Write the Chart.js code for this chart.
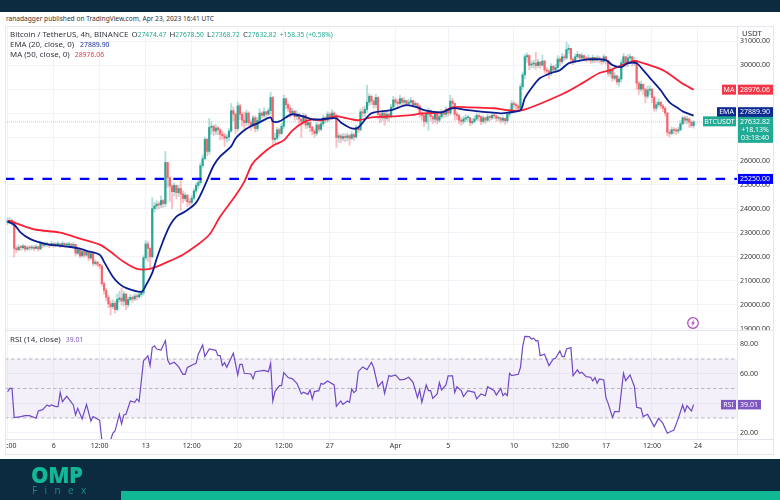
<!DOCTYPE html>
<html><head><meta charset="utf-8">
<script src="https://cdn.jsdelivr.net/npm/chart.js@4"></script>
<style>
html,body{margin:0;padding:0;background:#fff;width:780px;height:500px;overflow:hidden}
body{font-family:"Noto Sans",sans-serif;color:#333;position:relative}
.a{position:absolute;white-space:nowrap}
.t{font-size:7.9px;line-height:10px;color:#30343c}
.g{color:#22ab94;font-size:6.7px}
.v{font-size:6.9px}
.m{margin-left:3.2px}
.wrap{position:absolute;overflow:hidden;left:5px;width:769px}
canvas{position:absolute;left:-25px;top:0}
</style></head><body>
<div class="a" style="left:0;top:0;width:780px;height:12px;background:#0d2b40"></div>
<div class="a" style="left:6px;top:14px;font-size:6.6px;line-height:10px;color:#333">ranadagger published on TradingView.com, Apr 23, 2023 16:41 UTC</div>
<div class="wrap" style="top:26px;height:305px"><canvas id="price" width="794" height="305"></canvas></div>
<div class="wrap" style="top:331px;height:124px"><canvas id="rsi" width="794" height="124"></canvas></div>
<div class="a" style="left:5px;top:26px;width:769px;height:429px;border:1px solid #e6e8ef;box-sizing:border-box;pointer-events:none"></div>
<div class="a" style="left:5px;top:330px;width:769px;height:1px;background:#e2e4ec"></div>
<div class="a" style="left:5px;top:439px;width:769px;height:1px;background:#e2e4ec"></div>
<div class="a" style="left:737px;top:26px;width:1px;height:429px;background:#e6e8ef"></div>
<div class="a t" style="left:10px;top:29px">Bitcoin / TetherUS, 4h, BINANCE<span class="m">O</span><span class="g">27474.47</span><span class="m">H</span><span class="g">27678.50</span><span class="m">L</span><span class="g">27368.72</span><span class="m">C</span><span class="g">27632.82</span><span class="g m">+158.35 (+0.58%)</span></div>
<div class="a t" style="left:10px;top:39px">EMA (20, close, 0)<span class="v" style="margin-left:6px;color:#1a2fa0">27889.90</span></div>
<div class="a t" style="left:10px;top:49px">MA (50, close, 0)<span class="v" style="margin-left:5px;color:#f23645">28976.06</span></div>
<div class="a t" style="left:10px;top:334px">RSI (14, close)<span class="v" style="margin-left:5px;color:#7e57c2">39.01</span></div>
<div class="a t" style="left:742px;top:28px">USDT</div>
<svg class="a" style="left:686px;top:316px" width="14" height="14" viewBox="0 0 14 14"><circle cx="7" cy="7" r="5.3" fill="#fff" stroke="#ab47bc" stroke-width="1.2"/><path d="M8.3 3.6 5 7.4h1.8L5.8 10.4 9 6.6H7.2z" fill="#ab47bc"/></svg>
<div class="a" style="left:0;top:459px;width:780px;height:41px;background:#0d2b40"></div>
<div class="a" style="left:121px;top:491px;width:659px;height:9px;background:#10b894"></div>
<div class="a" style="left:31px;top:461px;font:800 22px/26px 'Open Sans',sans-serif;color:#10b894;letter-spacing:-.4px">OMP</div>
<div class="a" style="left:32px;top:484px;font:400 10px/13px 'Open Sans',sans-serif;color:#12907e;letter-spacing:7.4px">Finex</div>
<script>
const closes=[
23480,23520,23450,22350,22300,22400,
22380,22450,22320,22380,22370,22400,
22350,22420,22330,22560,22480,22510,
22520,22470,22560,22490,22510,22540,
22470,22560,22490,22500,22530,22480,
22520,22150,22300,22040,22220,22070,
22180,21950,22130,21720,21780,21690,
21620,20880,20600,20310,20040,19920,
20060,19800,20220,20280,20150,20450,
20000,20220,20310,20240,20360,20330,
20420,20500,21960,22540,22350,22000,
24010,24120,24200,24170,24350,24220,
25940,25300,24950,24720,24980,24680,
24850,24620,24430,24570,24300,24270,
24450,24750,24980,25100,25810,26100,
26900,26400,27400,27450,27250,27380,
27300,27120,27050,26950,27000,27250,
28100,27950,27350,28300,27950,27700,
27600,28000,27600,27500,27800,27350,
27700,28000,27900,28050,27950,28100,
28650,26900,26950,27300,27150,27450,
28600,28350,28200,28000,28080,27850,
27950,27750,27650,27900,27500,27600,
27400,27250,27150,27500,27320,27550,
27800,27700,27950,27850,28000,27900,
26980,27050,26950,27020,26980,27050,
26950,27100,27000,27380,27300,28050,
28000,28150,28450,28700,28500,28350,
28650,27950,27800,28000,27780,27950,
27850,28250,28550,28450,28400,28600,
28450,28520,28400,28450,28520,28350,
28400,28300,28000,27900,27650,27950,
28100,27850,27750,27950,27700,27850,
28050,27950,28150,28000,28500,28400,
27950,27900,27700,27650,27750,27800,
27800,27600,27650,27750,27900,27850,
27650,27800,27700,27850,27800,27900,
27880,27780,27800,27700,27780,27680,
27950,28050,28400,28350,28300,28200,
29100,29600,30350,30400,30000,30050,
30080,29980,30130,30000,30170,29800,
29750,29650,29950,29800,29900,30250,
30150,30350,30300,30650,30700,30250,
30150,30350,30450,30300,30400,30280,
30250,30300,30180,30320,30200,30300,
30250,30150,30350,30200,29650,29800,
29450,29550,29300,29420,30100,30350,
30050,30300,30350,30100,30200,29250,
29000,29200,29000,28700,28950,29000,
28650,28200,28350,28450,28300,28200,
28000,27200,27150,27300,27280,27250,
27300,27550,27800,27700,27750,27620,
27474.47,27632.82];
const highs=[
23620,23640,23580,23500,22450,22500,
22480,22520,22470,22460,22450,22480,
22460,22510,22450,22650,22580,22600,
22610,22560,22640,22580,22600,22640,
22570,22640,22570,22590,22620,22560,
22610,22530,22380,22330,22310,22240,
22270,22190,22220,22130,21870,21800,
21700,21650,20950,20680,20400,20150,
20200,20160,20450,20560,20700,20560,
20460,20320,20420,20380,20470,20450,
20510,20600,22050,22680,22640,22380,
24470,24270,24340,24290,24550,24400,
26400,25950,25320,25000,25090,24990,
24980,25190,24750,24680,24600,24430,
24560,24850,25080,25240,25920,26250,
27000,26950,27780,27620,27500,27520,
27450,27350,27250,27150,27110,27350,
28400,28250,28010,28450,28380,28050,
28050,28130,28060,27720,27900,27880,
27820,28180,28060,28220,28080,28200,
28870,28700,27150,27400,27360,27560,
28750,28620,28420,28290,28200,28100,
28100,28000,27800,28000,27950,27700,
27650,27460,27320,27620,27560,27660,
27920,27860,28060,28020,28130,28060,
27950,27180,27120,27140,27130,27170,
27120,27220,27150,27500,27440,28170,
28250,28300,29160,28810,28750,28560,
28780,28680,28020,28100,28050,28080,
28000,28360,28700,28620,28560,28750,
28650,28640,28540,28580,28640,28540,
28500,28420,28320,28050,27950,28080,
28220,28130,27920,28070,27990,27960,
28160,28090,28260,28190,28750,28620,
28420,28060,27950,27800,27860,27920,
27910,27840,27780,27880,28010,27960,
27880,27890,27830,27960,27900,28010,
27970,27920,27890,27830,27880,27790,
28060,28170,28520,28480,28430,28330,
29220,29720,30460,30500,30430,30180,
30200,30540,30240,30110,30420,30190,
29900,29820,30060,29990,30030,30400,
30330,30480,30450,30960,30850,30700,
30300,30470,30570,30440,30500,30410,
30360,30430,30320,30420,30300,30400,
30360,30280,30450,30370,30210,29920,
29830,29680,29580,29530,30230,30480,
30380,30440,30460,30360,30320,30210,
29320,29330,29220,29020,29120,29140,
29010,28720,28470,28590,28480,28360,
28270,28030,27310,27420,27390,27370,
27410,27680,27880,27860,27860,27800,
27690,27678.5];
const lows=[
23340,23380,23300,22000,22180,22240,
22260,22310,22220,22290,22270,22300,
22260,22330,22230,22300,22380,22410,
22430,22380,22440,22400,22420,22440,
22380,22440,22400,22420,22440,22390,
22410,22040,22090,21950,22010,21970,
22030,21840,21890,21620,21650,21590,
21500,20780,20440,20170,19880,19570,
19830,19650,19740,20100,19990,19960,
19790,19900,20150,20110,20180,20200,
20280,20330,20400,21880,21800,21500,
21950,23870,23990,24000,24050,24060,
24100,24900,24310,24010,24550,24410,
24520,23930,24250,24330,24080,24120,
24190,24370,24660,24850,25020,25700,
26050,26220,26280,27120,27050,27100,
27100,26880,26900,26610,26790,26850,
27200,27680,27150,27250,27720,27450,
27350,27480,27400,27280,27380,27200,
27250,27620,27780,27800,27800,27900,
27950,26600,26760,26880,27030,27100,
27350,28180,28050,27800,27900,27700,
27720,27580,26980,27550,27350,27380,
27220,27100,27000,27060,27210,27260,
27440,27590,27610,27700,27740,27790,
26570,26780,26760,26850,26800,26840,
26660,26880,26860,26960,27180,27250,
27830,27860,28030,28320,28360,28200,
28240,27750,27590,27680,27490,27700,
27660,27800,28150,28330,28280,28330,
28320,28360,28290,28330,28380,28250,
28220,28150,27820,27700,27440,27560,
27280,27680,27560,27620,27540,27620,
27760,27810,27850,27880,27920,28250,
27700,27720,27550,27480,27550,27630,
27660,27470,27520,27580,27690,27680,
27510,27570,27560,27640,27670,27720,
27760,27650,27670,27580,27620,27530,
27590,27850,27990,28210,28180,28080,
28120,29000,29430,30120,29800,29880,
29880,29820,29900,29860,29950,29660,
29590,29430,29560,29690,29770,29810,
29980,30060,30190,30230,30490,30070,
30020,30100,30290,30210,30230,30180,
30130,30170,30060,30090,30100,30120,
30090,30030,30080,30040,29540,29510,
29320,29380,29190,29120,29300,29950,
29930,29940,30190,29960,29990,29000,
28780,28900,28780,28420,28600,28760,
28430,28080,28080,28270,28190,28060,
27880,27050,27000,27090,27130,27120,
27150,27250,27500,27560,27560,27400,
27400,27368.72];
const firstOpen=23450;
const emaIdx=[0,3,6,10,15,19,24,28,33,36,42,44,48,51,54,61,63,66,68,71,74,77,81,86,90,94,97,102,104,108,111,114,120,121,124,130,139,143,150,152,157,160,166,175,182,187,190,198,203,210,225,229,234,236,240,243,248,252,256,260,266,273,276,280,283,287,290,294,298,302,306,308,313];
const emaVal=[23470,23340,23010,22760,22590,22510,22460,22420,22340,22250,22090,21790,21170,20870,20700,20540,20790,21330,21920,22670,23300,23680,23890,24260,24980,25810,26190,26610,26940,27280,27450,27570,27820,27650,27650,27950,27740,27740,27780,27610,27360,27400,27990,28120,28330,28240,28120,28030,28200,28120,27990,28030,28120,28620,29160,29460,29670,29790,30080,30170,30250,30210,30000,29920,30080,30080,29790,29370,28950,28450,28200,28070,27889.9];
const maIdx=[0,3,8,13,24,33,42,47,53,59,65,73,80,86,92,97,104,108,111,113,118,122,126,130,135,139,143,150,155,160,166,176,184,189,198,203,210,222,228,235,254,263,270,275,278,286,290,298,302,307,313];
const maVal=[23510,23430,23260,23130,23010,22760,22510,22210,21790,21500,21500,21790,22090,22460,22920,23680,24560,25140,25770,26020,26440,26690,26860,27280,27610,27740,27700,27860,27780,27700,27820,27860,27910,27990,28030,28240,28240,28200,28120,28120,28830,29290,29670,29790,29920,30170,30080,29830,29620,29290,28976.06];
const rsiIdx=[0,1,2,3,6,8,10,13,14,16,18,19,20,22,23,24,25,27,30,31,32,34,36,38,39,42,43,44,46,47,48,49,51,52,53,54,56,58,59,60,62,64,65,66,67,68,70,72,73,74,76,78,80,81,82,85,86,87,89,90,92,95,96,97,98,99,100,103,105,106,107,108,111,112,113,117,119,120,121,122,124,125,126,128,130,132,134,135,137,138,139,140,142,143,144,146,149,150,152,153,155,156,157,158,159,160,162,164,166,167,169,171,172,174,175,177,179,181,183,185,187,188,189,191,192,193,194,196,197,198,200,201,203,204,205,207,208,210,213,214,216,218,219,222,223,225,226,227,228,229,230,233,234,235,236,238,239,240,241,242,243,245,247,249,250,252,253,254,255,257,258,260,261,262,264,266,267,268,269,270,272,273,274,276,277,279,281,282,284,286,287,289,290,292,295,297,299,301,303,304,306,308,309,310,312,313];
const rsiVal=[47.9,50.1,50.1,30.2,30.9,31.6,31.6,29.8,34.7,35.6,38.8,37.9,38.8,37.7,37.7,47.4,41.1,44.7,38.8,32,36.5,29.3,39.2,27.9,30.9,28.4,15,10,9,15,19.6,21.1,32.5,25.9,32,32.5,41.5,40.6,42.9,41.1,68.7,72.1,65.5,77.7,78.9,76.8,76.1,82.5,69.4,66.4,67.8,64.8,59.6,59.6,64.2,66.4,67.1,73.2,79.5,71.6,76.8,75.9,72.3,72.3,65.5,67.5,64.4,73.9,59.2,66.4,66.4,60.3,59.8,56.5,61.4,62.3,61.4,67.1,41.5,47.9,51.9,51.9,60.8,57.4,56.5,53.5,46.3,47.4,46,49,42.9,47.9,48.5,53.5,52.8,55.1,52.4,37.9,41.5,39.2,41.5,40.6,49.7,47.2,48.5,61.4,64.6,62.8,67.8,64.2,51.2,54.6,46.7,58.7,58.2,59.2,55.8,56.2,57.6,54.2,43.8,49,40.6,52.4,48.5,48.5,43.3,46.3,54,49,52.4,58.5,58.5,47.2,51.2,48.5,44.5,48.5,47.4,42.9,46.3,45.1,51.2,48.5,45.6,50.1,45.1,46.7,45.1,60.3,58.7,59.6,64.2,78.4,85.4,85.2,83.6,84.1,82.3,82.5,72.3,73.2,65.5,70,70.5,75.5,71.6,71.6,76.8,77.7,58.7,62.6,60.3,61,58,57.6,55.1,57.4,53.5,56.5,55.8,43.8,39.9,30.4,34.3,34.3,60.3,55.3,59.2,51.2,37.2,36.5,30.9,32.5,24.1,29.7,26.3,19.6,21.1,21.6,29.7,38.8,34.3,38.3,34.7,39.01];
const xTickIdx=[0,21,42,63,84,105,126,147,177,201,231,252,273,294,315];
const xTickLabels=["12:00","6","12:00","13","12:00","20","12:00","27","Apr","5","10","12:00","17","12:00","24"];
const priceTicks=[19000,20000,21000,22000,23000,24000,25000,26000,27000,28000,29000,30000,31000];
const rsiTicks=[20,40,60,80];
const rsiBands=[70,50,30];
const level=25250, lastPrice=27632.82, lastEma=27889.90, lastMa=28976.06, lastRsi=39.01;
const xMin=-1.19, xMax=332.8;

const UP='#25a592', DOWN='#f6646d', UPW='rgba(38,166,154,.36)', DOWNW='rgba(242,54,69,.32)';
Chart.defaults.animation=false;
Chart.defaults.font.family='"Noto Sans",sans-serif';
Chart.defaults.font.size=7;
Chart.defaults.color='#333';
const opens=closes.map((c,i)=>i?closes[i-1]:firstOpen);
const isUp=closes.map((c,i)=>c>=opens[i]);
const pts=(xs,ys)=>xs.map((x,i)=>({x,y:ys[i]}));
const xScale=(show)=>({type:'linear',min:xMin,max:xMax,offset:false,
  afterBuildTicks:s=>{s.ticks=xTickIdx.map(v=>({value:v}))},
  afterFit:s=>{s.height=show?16:0;s.paddingLeft=0;s.paddingRight=0},
  grid:{color:'#f1f3f8',drawTicks:false,offset:false},border:{display:false},
  ticks:{display:show,autoSkip:false,maxRotation:0,padding:3,color:'#333',
    callback:(v)=>xTickLabels[xTickIdx.indexOf(v)]}});
const yFit=s=>{s.width=37;s.paddingTop=0;s.paddingBottom=0};

function tag(ctx,x0,x1,yc,h,fill,text,fg){
  ctx.save();ctx.fillStyle=fill;ctx.fillRect(x0,yc-h/2,x1-x0,h);
  ctx.fillStyle=fg||'#fff';ctx.font='7px "Noto Sans",sans-serif';
  ctx.textAlign='center';ctx.textBaseline='middle';ctx.fillText(text,(x0+x1)/2,yc+.3);ctx.restore();
}
const OFF=20; // canvas x = page x + OFF (page x = canvas x - 25 + 5)
const priceTags={id:'priceTags',afterDraw(c){
  const y=c.scales.y,ctx=c.ctx;
  tag(ctx,722+OFF,736+OFF,y.getPixelForValue(lastMa),10,'#f23645','MA');
  tag(ctx,737+OFF,773+OFF,y.getPixelForValue(lastMa),10,'#f23645',lastMa.toFixed(2));
  tag(ctx,717+OFF,736+OFF,y.getPixelForValue(lastEma)-3.5,10,'#0c2a8f','EMA');
  tag(ctx,737+OFF,773+OFF,y.getPixelForValue(lastEma)-3.5,10,'#0c2a8f',lastEma.toFixed(2));
  const yp=y.getPixelForValue(lastPrice);
  tag(ctx,703+OFF,736+OFF,yp-.5,10,'#22ab94','BTCUSDT');
  ctx.save();ctx.fillStyle='#22ab94';ctx.fillRect(737+OFF,yp-5,36.5,26);ctx.restore();
  tag(ctx,737+OFF,773+OFF,yp,8,'#22ab94',lastPrice.toFixed(2));
  tag(ctx,737+OFF,773+OFF,yp+8,8,'#22ab94','+18.13%');
  tag(ctx,737+OFF,773+OFF,yp+15.5,8,'#22ab94','03:18:40');
  tag(ctx,737+OFF,773+OFF,y.getPixelForValue(level),10,'#0000ff',level.toFixed(2));
}};
new Chart(document.getElementById('price'),{
  type:'bar',
  plugins:[priceTags],
  data:{datasets:[
    {type:'line',data:pts([xMin,xMax],[lastPrice,lastPrice]),borderColor:'rgba(34,171,148,.4)',borderWidth:1,borderDash:[1,1],pointRadius:0,order:9},
    {type:'bar',data:closes.map((c,i)=>({x:i,y:[Math.min(lows[i],c,opens[i]),Math.max(highs[i],c,opens[i])]})),backgroundColor:isUp.map(u=>u?UPW:DOWNW),barThickness:1.2,grouped:false,order:8},
    {type:'bar',data:closes.map((c,i)=>({x:i,y:[opens[i],c]})),backgroundColor:isUp.map(u=>u?UP:DOWN),barThickness:1.5,grouped:false,minBarLength:1,order:7},
    {type:'line',data:pts([xMin,xMax],[level,level]),borderColor:'#0000ff',borderWidth:2.2,borderDash:[9.5,9.2],pointRadius:0,order:3},
    {type:'line',label:'MA',data:pts(maIdx,maVal),borderColor:'#fb2036',borderWidth:1.8,pointRadius:0,tension:.3,order:2},
    {type:'line',label:'EMA',data:pts(emaIdx,emaVal),borderColor:'#0a1f8f',borderWidth:1.8,pointRadius:0,tension:.3,order:1}
  ]},
  options:{responsive:false,animation:false,events:[],
    layout:{padding:{left:25,right:0,top:0,bottom:0}},
    plugins:{legend:{display:false},tooltip:{enabled:false}},
    scales:{
      x:xScale(false),
      y:{position:'right',min:18904,max:31633,
        afterBuildTicks:s=>{s.ticks=priceTicks.map(v=>({value:v}))},
        afterFit:yFit,
        grid:{color:'#f1f3f8',drawTicks:false},border:{display:false},
        ticks:{padding:3,color:'#333',autoSkip:false,callback:v=>v.toFixed(2)}}
    }}
});
const rsiDeco={id:'rsiDeco',
  beforeDatasetsDraw(c){
    const y=c.scales.y,a=c.chartArea,ctx=c.ctx;
    ctx.save();
    const top=y.getPixelForValue(rsiBands[0]),bot=y.getPixelForValue(rsiBands[2]);
    ctx.fillStyle='rgba(126,87,194,.09)';ctx.fillRect(a.left,top,a.right-a.left,bot-top);
    ctx.strokeStyle='#a6a8b0';ctx.lineWidth=.8;ctx.setLineDash([3.5,2.5]);
    rsiBands.forEach(v=>{const p=y.getPixelForValue(v);ctx.beginPath();ctx.moveTo(a.left,p);ctx.lineTo(a.right,p);ctx.stroke();});
    ctx.restore();
  },
  afterDraw(c){
    const y=c.scales.y,ctx=c.ctx,p=y.getPixelForValue(lastRsi);
    tag(ctx,721+OFF,736+OFF,p,9.5,'#7e57c2','RSI');
    tag(ctx,737+OFF,761+OFF,p,9.5,'#7e57c2',lastRsi.toFixed(2));
  }};
new Chart(document.getElementById('rsi'),{
  type:'line',
  plugins:[rsiDeco],
  data:{datasets:[{data:pts(rsiIdx,rsiVal),borderColor:'#7149c6',borderWidth:1.2,pointRadius:0,tension:0}]},
  options:{responsive:false,animation:false,events:[],
    layout:{padding:{left:25,right:0,top:0,bottom:0}},
    plugins:{legend:{display:false},tooltip:{enabled:false}},
    scales:{
      x:xScale(true),
      y:{position:'right',min:15.7,max:89,
        afterBuildTicks:s=>{s.ticks=rsiTicks.map(v=>({value:v}))},
        afterFit:yFit,
        grid:{color:'#f1f3f8',drawTicks:false},border:{display:false},
        ticks:{padding:3,color:'#333',autoSkip:false,callback:v=>v.toFixed(2)}}
    }}
});
</script>
</body></html>
